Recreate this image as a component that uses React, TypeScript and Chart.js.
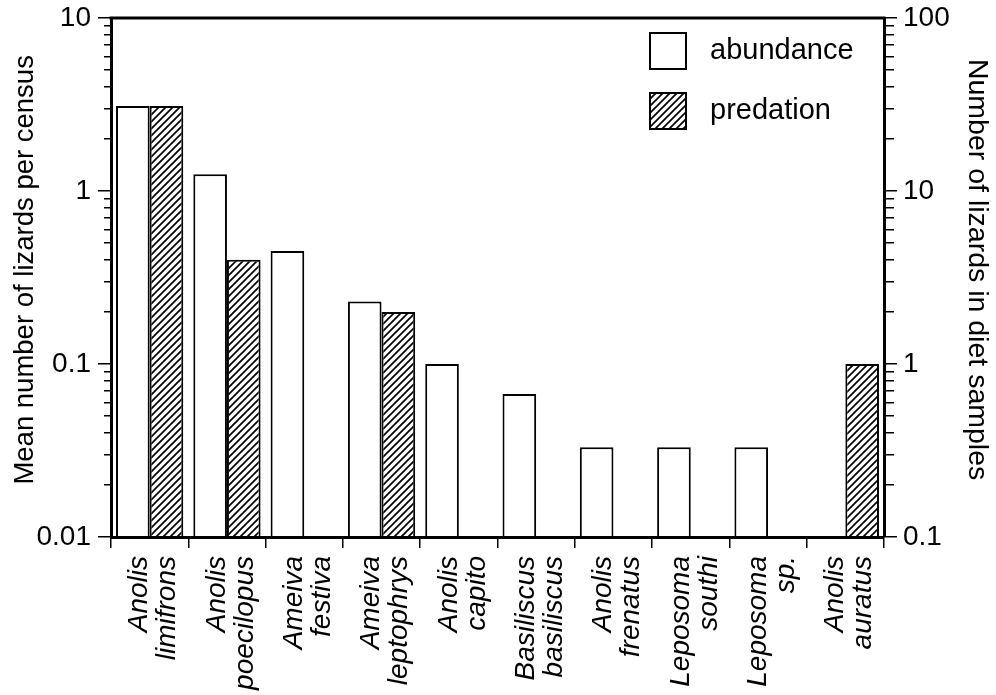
import React, { useEffect, useRef } from 'react';
import { Chart, registerables } from 'chart.js';

Chart.register(...registerables);

const categories: string[][] = [
  ['Anolis', 'limifrons'],
  ['Anolis', 'poecilopus'],
  ['Ameiva', 'festiva'],
  ['Ameiva', 'leptophrys'],
  ['Anolis', 'capito'],
  ['Basiliscus', 'basiliscus'],
  ['Anolis', 'frenatus'],
  ['Leposoma', 'southi'],
  ['Leposoma', 'sp.'],
  ['Anolis', 'auratus'],
];
const abundance: (number | null)[] = [3.1, 1.25, 0.45, 0.23, 0.1, 0.067, 0.033, 0.033, 0.033, null];
const predation: (number | null)[] = [31, 4, null, 2, null, null, null, null, null, 1];
const leftTickLabels = [0.01, 0.1, 1, 10];
const rightTickLabels = [0.1, 1, 10, 100];

const FONT = "'Liberation Sans', Arial, Helvetica, sans-serif";
const FS = 28;

function decadeTicks(majors: number[]) {
  const out: { value: number; major: boolean }[] = [];
  for (let i = 0; i < majors.length - 1; i++) {
    for (let k = 1; k <= 9; k++) {
      const v = parseFloat((k * majors[i]).toPrecision(4));
      out.push({ value: v, major: k === 1 });
    }
  }
  out.push({ value: majors[majors.length - 1], major: true });
  return out;
}

function makeHatch(): CanvasPattern | string {
  const c = document.createElement('canvas');
  const s = 7;
  c.width = s;
  c.height = s;
  const g = c.getContext('2d');
  if (!g) return '#888';
  g.fillStyle = '#fff';
  g.fillRect(0, 0, s, s);
  g.strokeStyle = '#000';
  g.lineWidth = 1.7;
  g.beginPath();
  g.moveTo(-1, s + 1);
  g.lineTo(s + 1, -1);
  g.moveTo(-2, 2);
  g.lineTo(2, -2);
  g.moveTo(s - 2, s + 2);
  g.lineTo(s + 2, s - 2);
  g.stroke();
  const p = g.createPattern(c, 'repeat');
  return p || '#888';
}

const framePlugin = {
  id: 'frameTop',
  afterDraw(chart: any) {
    const { ctx, chartArea } = chart;
    ctx.save();
    ctx.strokeStyle = '#000';
    ctx.lineWidth = 3;
    ctx.beginPath();
    ctx.moveTo(chartArea.left - 1.5, chartArea.top);
    ctx.lineTo(chartArea.right + 1.5, chartArea.top);
    ctx.stroke();
    ctx.restore();
  },
};

const legendPlugin = {
  id: 'boxLegend',
  afterDraw(chart: any) {
    const { ctx, chartArea } = chart;
    ctx.save();
    chart.data.datasets.forEach((ds: any, i: number) => {
      const bx = chartArea.right - 234;
      const by = chartArea.top + 15 + i * 60;
      const size = 36;
      ctx.fillStyle = ds.backgroundColor;
      ctx.fillRect(bx, by, size, size);
      ctx.strokeStyle = '#000';
      ctx.lineWidth = 2;
      ctx.strokeRect(bx, by, size, size);
      ctx.fillStyle = '#000';
      ctx.font = `29px ${FONT}`;
      ctx.textAlign = 'left';
      ctx.textBaseline = 'middle';
      ctx.fillText(ds.label, bx + 60, by + size / 2);
    });
    ctx.restore();
  },
};

export default function App() {
  const ref = useRef<HTMLCanvasElement | null>(null);

  useEffect(() => {
    if (!ref.current) return;
    const hatch = makeHatch();
    const leftMajors = leftTickLabels;
    const rightMajors = rightTickLabels;
    const barBorder = (c: any) => (c.raw == null ? 0 : 2);
    const chart = new Chart(ref.current, {
      type: 'bar',
      data: {
        labels: categories,
        datasets: [
          {
            label: 'abundance',
            data: abundance,
            backgroundColor: '#ffffff',
            borderColor: '#000000',
            borderWidth: barBorder,
            yAxisID: 'y',
            categoryPercentage: 0.87,
            barPercentage: 1,
          },
          {
            label: 'predation',
            data: predation,
            backgroundColor: hatch as any,
            borderColor: '#000000',
            borderWidth: barBorder,
            yAxisID: 'y2',
            categoryPercentage: 0.87,
            barPercentage: 1,
          },
        ],
      },
      options: {
        animation: false,
        responsive: true,
        maintainAspectRatio: false,
        layout: { padding: { top: 18, left: 0, right: 0, bottom: 0 } },
        plugins: {
          legend: { display: false },
          tooltip: { enabled: false },
        },
        scales: {
          x: {
            type: 'category',
            offset: true,
            grid: {
              offset: true,
              drawOnChartArea: false,
              drawTicks: true,
              tickLength: 11,
              color: '#000',
              lineWidth: 1.5,
            },
            border: { display: true, color: '#000', width: 3, z: 1 },
            ticks: {
              color: '#000',
              font: { family: FONT, size: FS, style: 'italic', lineHeight: 1.0 },
              minRotation: 90,
              maxRotation: 90,
              autoSkip: false,
              padding: 8,
              labelOffset: -10,
            },
            afterFit: (scale: any) => {
              scale.height = 158;
            },
          },
          y: {
            type: 'logarithmic',
            position: 'left',
            min: leftMajors[0],
            max: leftMajors[leftMajors.length - 1],
            afterBuildTicks: (scale: any) => {
              scale.ticks = decadeTicks(leftMajors);
            },
            afterFit: (scale: any) => {
              scale.width = 111;
            },
            grid: {
              drawOnChartArea: false,
              drawTicks: true,
              tickLength: 13,
              color: '#000',
              lineWidth: 1.5,
              tickBorderDash: (c: any) => (c.tick && c.tick.major ? [] : [0, 6, 8, 100]),
            },
            border: { display: true, color: '#000', width: 3, z: 1 },
            ticks: {
              autoSkip: false,
              color: '#000',
              padding: 7,
              font: { family: FONT, size: FS, lineHeight: 0.7 },
              callback: (v: any) => (leftMajors.includes(Number(v)) ? String(v) : ''),
            },
            title: {
              display: true,
              text: '  Mean number of lizards per census',
              color: '#000',
              font: { family: FONT, size: 27.5 },
              padding: { top: 9, bottom: 0 },
            },
          },
          y2: {
            type: 'logarithmic',
            position: 'right',
            min: rightMajors[0],
            max: rightMajors[rightMajors.length - 1],
            afterBuildTicks: (scale: any) => {
              scale.ticks = decadeTicks(rightMajors);
            },
            afterFit: (scale: any) => {
              scale.width = 112;
            },
            grid: {
              drawOnChartArea: false,
              drawTicks: true,
              tickLength: 13,
              color: '#000',
              lineWidth: 1.5,
              tickBorderDash: (c: any) => (c.tick && c.tick.major ? [] : [8, 100]),
            },
            border: { display: true, color: '#000', width: 3, z: 1 },
            ticks: {
              autoSkip: false,
              color: '#000',
              padding: 6,
              font: { family: FONT, size: FS, lineHeight: 0.7 },
              callback: (v: any) => (rightMajors.includes(Number(v)) ? String(v) : ''),
            },
            title: {
              display: true,
              text: 'Number of lizards in diet samples  ',
              color: '#000',
              font: { family: FONT, size: 28.5 },
              padding: { top: 2, bottom: 0 },
            },
          },
        },
      },
      plugins: [framePlugin, legendPlugin],
    } as any);
    return () => chart.destroy();
  }, []);

  return (
    <div style={{ position: 'fixed', left: 0, top: 0, width: 996, height: 695, background: '#fff' }}>
      <canvas ref={ref} />
    </div>
  );
}
